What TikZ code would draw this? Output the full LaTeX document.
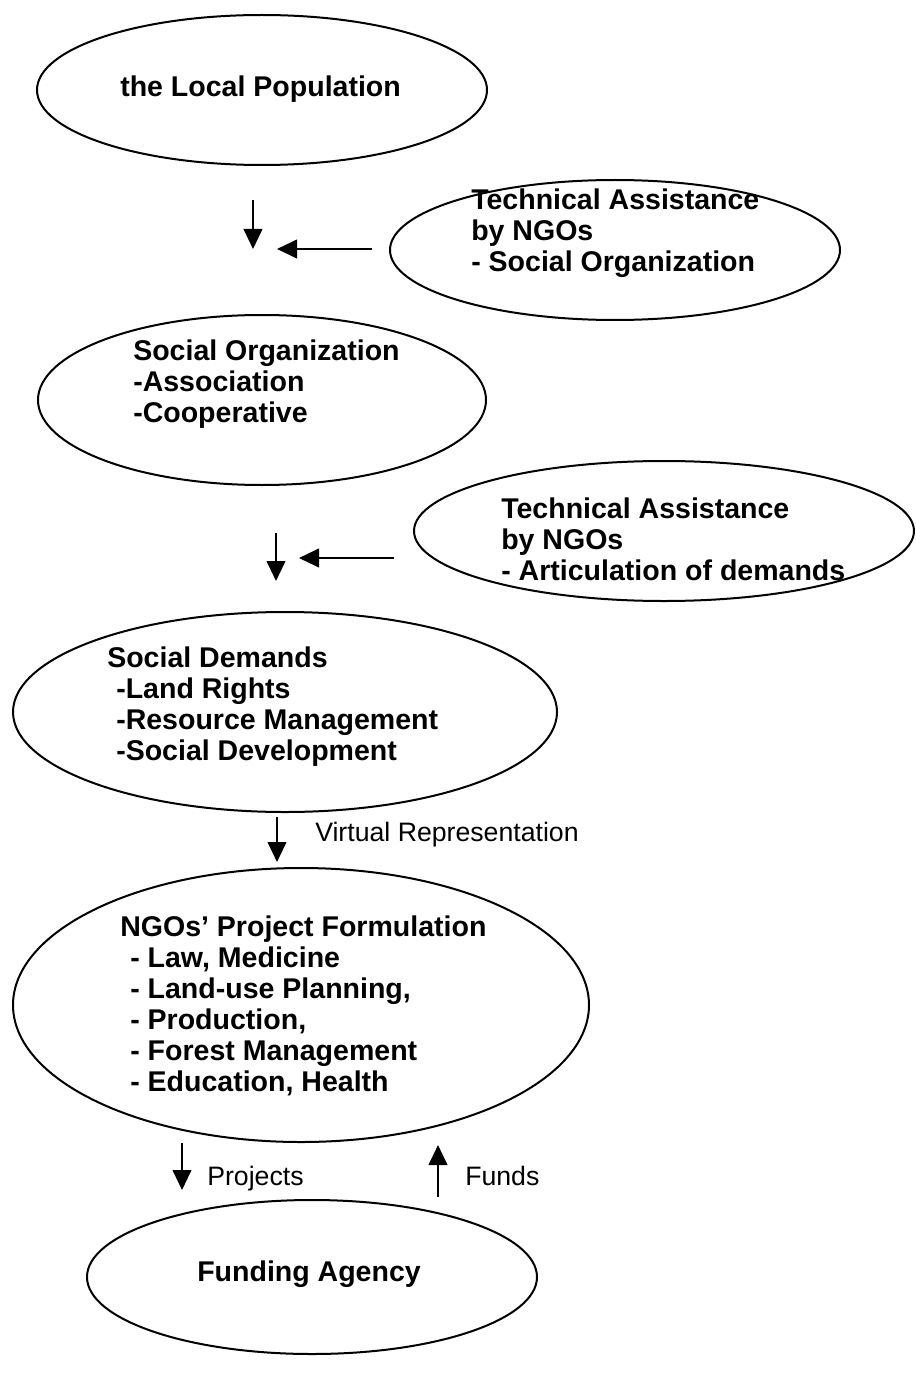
\documentclass[tikz,border=0pt]{standalone}
\usepackage{fontspec}
\setmainfont{Liberation Sans}
\usetikzlibrary{shapes.geometric,arrows.meta}
\begin{document}
\begin{tikzpicture}[x=0.75pt,y=-0.75pt,
  bubble/.style={draw,ellipse,line width=1.5pt,inner sep=0pt},
  boxtext/.style={anchor=north west,align=left,inner sep=0pt,
    font=\bfseries\fontsize{21.4}{23.25}\selectfont},
  flowlabel/.style={anchor=base west,inner sep=0pt,font=\fontsize{20}{24}\selectfont},
  flow/.style={line width=1.5pt,-{Triangle[length=15pt,width=14pt]}}]
\useasboundingbox (0,0) rectangle (916,1376);

% ellipses
\node[bubble,minimum width=337.5pt,minimum height=112.5pt] (pop)  at (262,90) {};
\node[bubble,minimum width=337.5pt,minimum height=105pt]   (ta1)  at (615,250) {};
\node[bubble,minimum width=336pt,minimum height=127.5pt]   (org)  at (262,400) {};
\node[bubble,minimum width=375pt,minimum height=105pt]     (ta2)  at (664,531) {};
\node[bubble,minimum width=408pt,minimum height=150pt]     (dem)  at (285,712) {};
\node[bubble,minimum width=432pt,minimum height=205.5pt]   (proj) at (301,1005) {};
\node[bubble,minimum width=337.5pt,minimum height=115.5pt] (fund) at (312,1277) {};

% texts inside the ellipses
\node[boxtext] (popt)  at (120,76)  {the Local Population};
\node[boxtext] (ta1t)  at (471,189) {Technical Assistance\\by NGOs\\- Social Organization};
\node[boxtext] (orgt)  at (133,340) {Social Organization\\-Association\\-Cooperative};
\node[boxtext] (ta2t)  at (501,498) {Technical Assistance\\by NGOs\\- Articulation of demands};
\node[boxtext] (demt)  at (107,647) {Social Demands\\\hspace*{6.75pt}-Land Rights\\\hspace*{6.75pt}-Resource Management\\\hspace*{6.75pt}-Social Development};
\node[boxtext] (projt) at (120,916) {NGOs’ Project Formulation\\\hspace*{7.5pt}- Law, Medicine\\\hspace*{7.5pt}- Land-use Planning,\\\hspace*{7.5pt}- Production,\\\hspace*{7.5pt}- Forest Management\\\hspace*{7.5pt}- Education, Health};
\node[boxtext] (fundt) at (197,1261) {Funding Agency};

% arrow end points
\coordinate (a1s) at (253,200);  \coordinate (a1e) at (253,249);
\coordinate (b1s) at (372,249);  \coordinate (b1e) at (277,249);
\coordinate (a2s) at (276,533);  \coordinate (a2e) at (276,581);
\coordinate (b2s) at (394,558);  \coordinate (b2e) at (299,558);
\coordinate (a3s) at (277,817);  \coordinate (a3e) at (277,862);
\coordinate (a4s) at (182,1143); \coordinate (a4e) at (182,1190);
\coordinate (a5s) at (438,1197); \coordinate (a5e) at (438,1145);

\draw[flow] (a1s) -- (a1e);
\draw[flow] (b1s) -- (b1e);
\draw[flow] (a2s) -- (a2e);
\draw[flow] (b2s) -- (b2e);
\draw[flow] (a3s) -- (a3e);
\draw[flow] (a4s) -- (a4e);
\draw[flow] (a5s) -- (a5e);

% connector labels
\node[flowlabel] (vr)  at (315,841)  {Virtual Representation};
\node[flowlabel] (prl) at (207,1185) {Projects};
\node[flowlabel] (fdl) at (465,1185) {Funds};
\end{tikzpicture}
\end{document}
